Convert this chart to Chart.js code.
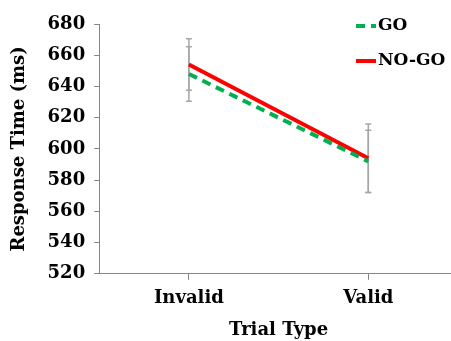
<!DOCTYPE html>
<html>
<head>
<meta charset="utf-8">
<script src="https://cdn.jsdelivr.net/npm/chart.js@4"></script>
<style>
  html, body { margin: 0; padding: 0; background: #fff; overflow: hidden; }
</style>
</head>
<body>
<canvas id="myChart" width="458" height="341"></canvas>
<script>
// data
var categories = ["Invalid", "Valid"];
var goValues = [648, 592];
var goErrors = [17.5, 20];
var nogoValues = [654, 594];
var nogoErrors = [16.5, 22];
var yTicks = [520, 540, 560, 580, 600, 620, 640, 660, 680];

var fontFamily = '"DejaVu Serif", Georgia, serif';

// error bars drawn through the scales
var errorBars = {
    id: 'errorBars',
    beforeDatasetsDraw: function (chart) {
        var ctx = chart.ctx;
        var yScale = chart.scales.y;
        ctx.save();
        ctx.strokeStyle = '#a6a6a6';
        ctx.lineWidth = 1.5;
        chart.data.datasets.forEach(function (ds, di) {
            var meta = chart.getDatasetMeta(di);
            meta.data.forEach(function (pt, i) {
                var v = ds.data[i], e = ds.errors[i];
                var top = yScale.getPixelForValue(v + e);
                var bot = yScale.getPixelForValue(v - e);
                ctx.beginPath();
                ctx.moveTo(pt.x, top); ctx.lineTo(pt.x, bot);
                ctx.moveTo(pt.x - 3, top); ctx.lineTo(pt.x + 3, top);
                ctx.moveTo(pt.x - 3, bot); ctx.lineTo(pt.x + 3, bot);
                ctx.stroke();
            });
        });
        ctx.restore();
    }
};

// legend inside the plot, top right
var innerLegend = {
    id: 'innerLegend',
    afterDraw: function (chart) {
        var ctx = chart.ctx;
        ctx.save();
        ctx.font = 'bold 17px ' + fontFamily;
        ctx.textBaseline = 'middle';
        ctx.fillStyle = '#000';
        var x0 = 356, rows = [26, 61];
        chart.data.datasets.forEach(function (ds, i) {
            var y = rows[i];
            ctx.strokeStyle = ds.borderColor;
            ctx.lineWidth = 4;
            ctx.setLineDash(ds.borderDash || []);
            ctx.beginPath();
            ctx.moveTo(x0, y); ctx.lineTo(x0 + 20, y);
            ctx.stroke();
            ctx.setLineDash([]);
            ctx.fillText(ds.label, x0 + 22, y);
        });
        ctx.restore();
    }
};

var data = {
    labels: categories,
    datasets: [{
        label: 'GO',
        data: goValues,
        errors: goErrors,
        borderColor: '#00b050',
        borderWidth: 4,
        borderDash: [9, 6],
        pointRadius: 0,
        fill: false
    }, {
        label: 'NO-GO',
        data: nogoValues,
        errors: nogoErrors,
        borderColor: '#ff0000',
        borderWidth: 4,
        pointRadius: 0,
        fill: false
    }]
};

var config = {
    type: 'line',
    data: data,
    options: {
        responsive: false,
        animation: false,
        layout: { padding: { top: 24, left: 5, right: 0, bottom: 0 } },
        plugins: {
            legend: { display: false },
            tooltip: { enabled: false }
        },
        scales: {
            x: {
                offset: true,
                grid: { display: true, drawOnChartArea: false, color: '#868686', tickLength: 6 },
                border: { color: '#868686', width: 1 },
                ticks: { color: '#000', font: { family: fontFamily, size: 18, weight: 'bold' }, padding: 8 },
                title: { display: true, text: 'Trial Type', color: '#000', font: { family: fontFamily, size: 18, weight: 'bold' }, padding: { top: 2, bottom: 0 } }
            },
            y: {
                min: 520,
                max: 680,
                afterBuildTicks: function (axis) {
                    axis.ticks = yTicks.map(function (v) { return { value: v }; });
                },
                grid: { display: true, drawOnChartArea: false, color: '#868686', tickLength: 5 },
                border: { color: '#868686', width: 1 },
                ticks: { color: '#000', font: { family: fontFamily, size: 18, weight: 'bold' }, padding: 9 },
                title: { display: true, text: 'Response Time (ms)', color: '#000', font: { family: fontFamily, size: 18, weight: 'bold' }, padding: { bottom: 8 } }
            }
        }
    },
    plugins: [errorBars, innerLegend]
};

var myChart = new Chart(document.getElementById('myChart').getContext('2d'), config);
</script>
</body>
</html>
